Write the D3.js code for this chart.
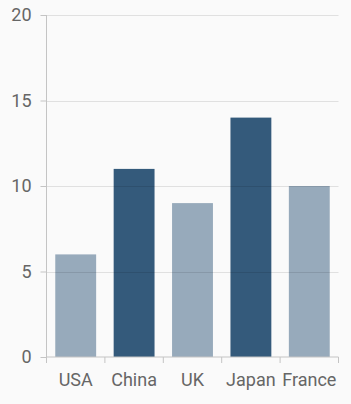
<!DOCTYPE html>
<html>
<head>
<meta charset="utf-8">
<script src="https://cdn.jsdelivr.net/npm/d3@7"></script>
<style>
html,body{margin:0;padding:0;background:#fafafa;}
svg{display:block;font-family:Roboto,"Noto Sans",sans-serif;}
</style>
</head>
<body>
<svg id="chart" width="351" height="404"></svg>
<script>
const categories = ["USA", "China", "UK", "Japan", "France"];
const values = [6, 11, 9, 14, 10];
const barColors = ["#97aabb", "#345a7b", "#97aabb", "#345a7b", "#97aabb"];
const yTicks = [0, 5, 10, 15, 20];

(function () {
const svg = d3.select("#chart");
const mLeft = 46.5, mRight = 338.5, mTop = 15, mBottom = 357;

const x = d3.scaleBand().domain(categories).range([mLeft, mRight]).padding(0);
const y = d3.scaleLinear().domain([0, 20]).range([mBottom, mTop]);

// bars
const bw = x.bandwidth() * 0.7;
svg.append("g").selectAll("rect").data(values).join("rect")
  .attr("x", (d, i) => x(categories[i]) + (x.bandwidth() - bw) / 2)
  .attr("y", d => y(d))
  .attr("width", bw)
  .attr("height", d => y(0) - y(d))
  .attr("fill", (d, i) => barColors[i]);

// gridlines (over bars, translucent)
svg.append("g").selectAll("line").data(yTicks.filter(t => t > 0)).join("line")
  .attr("x1", mLeft).attr("x2", mRight)
  .attr("y1", d => Math.round(y(d)) + 0.5).attr("y2", d => Math.round(y(d)) + 0.5)
  .attr("stroke", "rgba(0,0,0,0.1)").attr("stroke-width", 1);

// y axis
const yAxis = svg.append("g").attr("transform", `translate(${mLeft},0)`)
  .call(d3.axisLeft(y).tickValues(yTicks).tickSize(6).tickPadding(9).tickFormat(d3.format("d")));
yAxis.select(".domain").attr("stroke", "#c4c4c4").attr("d", `M0,${mTop}V${mBottom}`);
yAxis.selectAll(".tick line").attr("stroke", "#c4c4c4");
yAxis.selectAll(".tick text").attr("fill", "#666").attr("font-size", 18).attr("font-family", "Roboto");

// x axis
const xAxis = svg.append("g").attr("transform", `translate(0,${mBottom})`)
  .call(d3.axisBottom(x).tickSize(0).tickPadding(16));
xAxis.select(".domain").attr("stroke", "#c4c4c4").attr("d", `M${mLeft},0H${mRight}`);
xAxis.selectAll(".tick text").attr("fill", "#666").attr("font-size", 18).attr("font-family", "Roboto");
// boundary ticks
const bounds = categories.map(c => x(c)).concat([mRight]);
xAxis.append("g").selectAll("line").data(bounds).join("line")
  .attr("x1", d => d).attr("x2", d => d).attr("y1", 0).attr("y2", 6)
  .attr("stroke", "#c4c4c4");
})();
</script>
</body>
</html>
